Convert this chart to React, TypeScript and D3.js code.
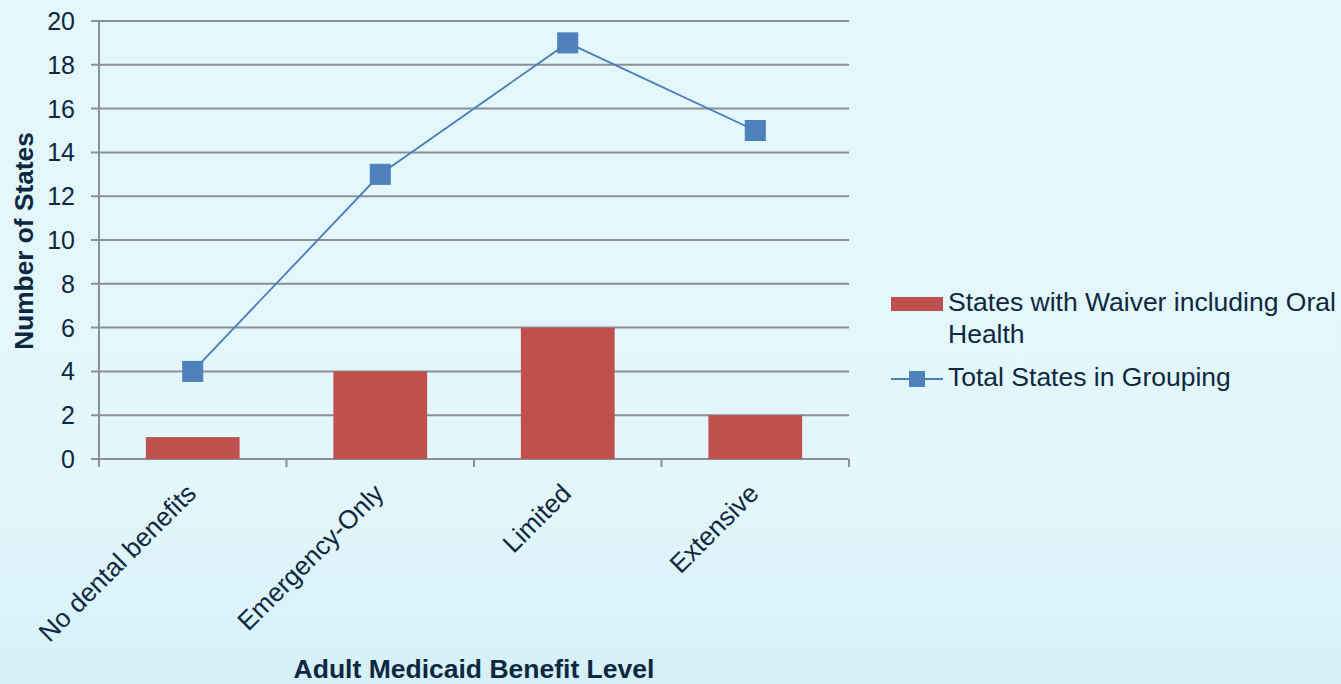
import React from "react";
import * as d3 from "d3";

const categories = ["No dental benefits", "Emergency-Only", "Limited", "Extensive"];
const waiverStates = [1, 4, 6, 2];
const totalStates = [4, 13, 19, 15];
const yTicks = [0, 2, 4, 6, 8, 10, 12, 14, 16, 18, 20];
const seriesNames = ["States with Waiver including Oral", "Health", "Total States in Grouping"];

const W = 1341, H = 684;
const left = 99, right = 849, top = 21, bottom = 459;
const textColor = "#0e2841";
const font = "'Liberation Sans', Arial, sans-serif";

export default function App() {
  const x = d3.scaleBand<string>().domain(categories).range([left, right]).paddingInner(0.5).paddingOuter(0.25);
  const xc = d3.scaleBand<string>().domain(categories).range([left, right]);
  const y = d3.scaleLinear().domain([0, 20]).range([bottom, top]);
  const line = d3.line<number>().x((_, i) => xc(categories[i])! + xc.bandwidth() / 2).y((d) => y(d));
  const ms = 20;
  return (
    <svg width={W} height={H} style={{ position: "absolute", left: 0, top: 0 }} fontFamily={font}>
      <defs>
        <linearGradient id="bg" x1="0" y1="0" x2="0" y2="1">
          <stop offset="0" stopColor="#e4f7fc" />
          <stop offset="0.75" stopColor="#e2f6fb" />
          <stop offset="1" stopColor="#d5f0f8" />
        </linearGradient>
      </defs>
      <rect x={0} y={0} width={W} height={H} fill="url(#bg)" />
      {yTicks.map((t) => (
        <g key={t}>
          <line x1={left - 8} x2={right} y1={y(t)} y2={y(t)} stroke="#8c8f93" strokeWidth={2} />
          <text x={75} y={y(t)} dy="0.36em" textAnchor="end" fontSize={25} fill={textColor}>{t}</text>
        </g>
      ))}
      <line x1={left} x2={left} y1={top} y2={bottom + 8} stroke="#8c8f93" strokeWidth={2} />
      {categories.map((c, i) => (
        <line key={"t" + i} x1={xc(c)! + xc.bandwidth()} x2={xc(c)! + xc.bandwidth()} y1={bottom} y2={bottom + 8} stroke="#8c8f93" strokeWidth={2} />
      ))}
      {categories.map((c, i) => (
        <rect key={"b" + i} x={x(c)} y={y(waiverStates[i])} width={x.bandwidth()} height={y(0) - y(waiverStates[i])} fill="#c0504d" />
      ))}
      <path d={line(totalStates)!} fill="none" stroke="#4a7ebb" strokeWidth={1.8} />
      {totalStates.map((v, i) => (
        <rect key={"m" + i} x={xc(categories[i])! + xc.bandwidth() / 2 - ms / 2} y={y(v) - ms / 2} width={ms} height={ms} fill="#4f81bd" stroke="#4a7ebb" />
      ))}
      {categories.map((c, i) => {
        const cx = xc(c)! + xc.bandwidth() / 2 + 5;
        return (
          <text key={"l" + i} transform={`translate(${cx},${495}) rotate(-45)`} textAnchor="end" fontSize={26} fill={textColor}>{c}</text>
        );
      })}
      <text x={474} y={678} textAnchor="middle" fontSize={26.5} fontWeight="bold" fill={textColor}>Adult Medicaid Benefit Level</text>
      <text transform={`translate(33,241) rotate(-90)`} textAnchor="middle" fontSize={26.3} fontWeight="bold" fill={textColor}>Number of States</text>
      <rect x={891} y={297} width={52} height={14} fill="#c0504d" />
      <text x={948} y={311} fontSize={26.5} fill={textColor}>{seriesNames[0]}</text>
      <text x={948} y={343} fontSize={26.5} fill={textColor}>{seriesNames[1]}</text>
      <line x1={891} x2={943} y1={379} y2={379} stroke="#4a7ebb" strokeWidth={1.8} />
      <rect x={909} y={371} width={16} height={16} fill="#4f81bd" />
      <text x={948} y={386} fontSize={26.5} fill={textColor}>{seriesNames[2]}</text>
    </svg>
  );
}
